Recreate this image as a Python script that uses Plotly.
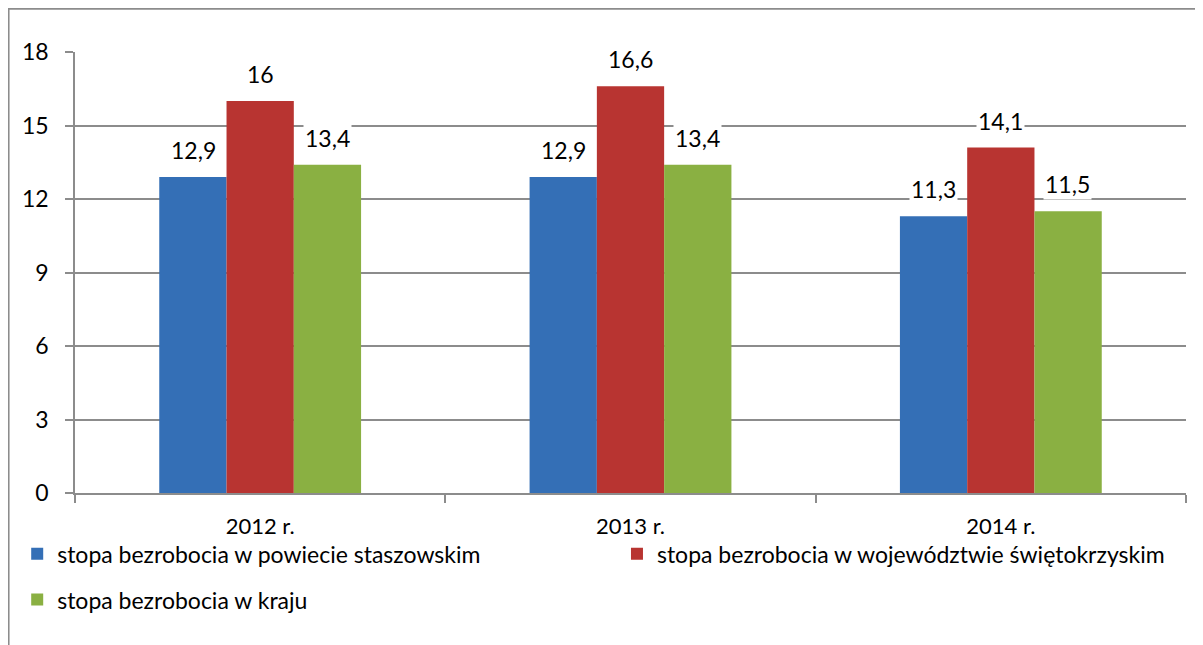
import plotly.graph_objects as go

years = ["2012 r.", "2013 r.", "2014 r."]
series_names = [
    "stopa bezrobocia w powiecie staszowskim",
    "stopa bezrobocia w województwie świętokrzyskim",
    "stopa bezrobocia w kraju",
]
powiat = [12.9, 12.9, 11.3]
wojewodztwo = [16.0, 16.6, 14.1]
kraj = [13.4, 13.4, 11.5]
y_ticks = [0, 3, 6, 9, 12, 15, 18]

colors = ["#346fb6", "#b83431", "#8ab042"]
FONT = "Lato"
FSIZE = 23
BAR_PX = 67
legend_ids = ["legend", "legend2", "legend3"]


def fmt(v: float) -> str:
    return f"{v:g}".replace(".", ",")


fig = go.Figure()
for i, (name, vals) in enumerate(zip(series_names, [powiat, wojewodztwo, kraj])):
    fig.add_bar(
        x=years,
        y=vals,
        name=name,
        marker=dict(color=colors[i], line=dict(width=0)),
        legend=legend_ids[i],
        showlegend=True,
        hoverinfo="skip",
    )
    for x, v in zip(years, vals):
        fig.add_annotation(
            x=x,
            y=v,
            text=fmt(v),
            showarrow=False,
            xshift=(i - 1) * BAR_PX,
            yshift=27,
            font=dict(family=FONT, size=FSIZE, color="#000000"),
            bgcolor="white",
        )

# outer chart border (only top and left are visible in the crop)
fig.add_shape(
    type="path",
    xref="paper",
    yref="paper",
    path="M -0.0598,-0.6 L -0.0598,1.098 L 1.2,1.098",
    line=dict(color="#8c8c8c", width=2),
)

legend_style = dict(
    orientation="h",
    xref="container",
    yref="container",
    xanchor="left",
    yanchor="middle",
    font=dict(family=FONT, size=23),
    bgcolor="rgba(0,0,0,0)",
)
fig.update_layout(
    width=1195,
    height=637,
    showlegend=True,
    barmode="group",
    bargap=0.455,
    bargroupgap=0,
    plot_bgcolor="white",
    paper_bgcolor="white",
    margin=dict(l=67, r=17, t=44, b=152, autoexpand=False),
    font=dict(family=FONT, size=FSIZE, color="#000000"),
    legend=dict(x=0.0077, y=0.1432, **legend_style),
    legend2=dict(x=0.5096, y=0.1432, **legend_style),
    legend3=dict(x=0.0077, y=0.0712, **legend_style),
)
fig.update_yaxes(
    range=[0, 18],
    tickvals=y_ticks,
    showgrid=True,
    gridcolor="#8c8c8c",
    gridwidth=1.5,
    showline=True,
    linecolor="#8c8c8c",
    linewidth=1.5,
    ticks="outside",
    ticklen=8,
    tickcolor="#8c8c8c",
    tickwidth=1.5,
    ticklabelstandoff=12,
    zeroline=False,
)
fig.update_xaxes(
    showline=True,
    linecolor="#8c8c8c",
    linewidth=1.5,
    ticks="outside",
    tickson="boundaries",
    ticklen=8,
    tickcolor="#8c8c8c",
    tickwidth=1.5,
    ticklabelstandoff=13,
    tickfont=dict(size=22),
)

fig.write_html("out.html")
